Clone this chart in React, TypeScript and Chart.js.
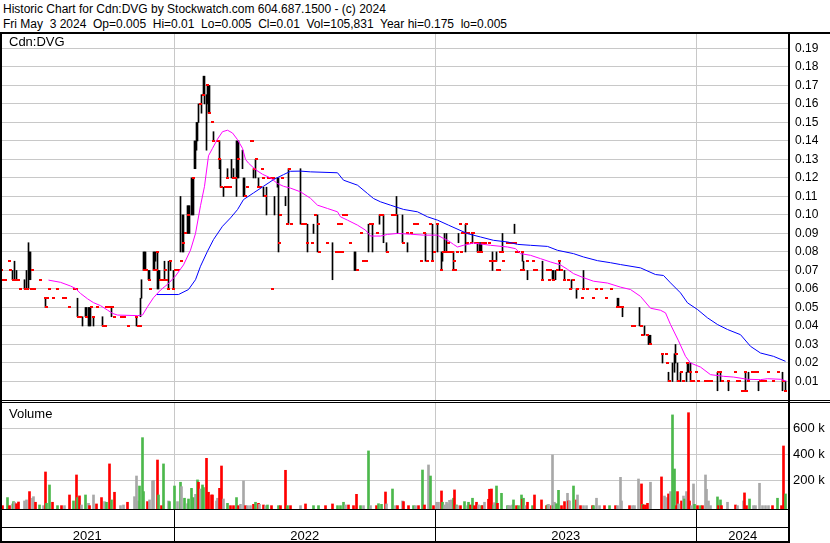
import React, { useEffect, useRef } from 'react';
import { Chart, registerables } from 'chart.js';

Chart.register(...registerables);

const FONT = '"Liberation Sans", Arial, Helvetica, sans-serif';

// ---- axis data ----
const yearLabels = ['2021', '2022', '2023', '2024'];
// session index at which each new calendar year begins
const yearStarts = [174, 434.5, 696];
const sessionMin = -0.5;
const sessionMax = 788.5;
const priceTicks = [0.01, 0.02, 0.03, 0.04, 0.05, 0.06, 0.07, 0.08, 0.09, 0.1, 0.11, 0.12, 0.13, 0.14, 0.15, 0.16, 0.17, 0.18, 0.19];
const priceMax = 0.1978;
const volTicks = [200000, 400000, 600000];
const volMin = -20800;
const volMax = 794600;

// ---- daily high-low bars (session index, low, high) ----
const barDays = [12, 14, 16, 24, 26, 28, 29, 30, 45, 77, 82, 85, 86, 88, 89, 90, 93, 102, 111, 136, 140,
  141, 143, 144, 145, 148, 149, 153, 154, 155, 157, 158, 159, 164, 168, 170, 173, 180, 182, 183, 187, 188, 189,
  191, 192, 193, 194, 195, 196, 197, 198, 201, 203, 204, 206, 207, 208, 209, 213, 219, 220, 223, 227, 231, 233,
  236, 237, 238, 242, 243, 244, 253, 255, 258, 263, 266, 274, 277, 278, 285, 288,
  300, 307, 313, 317, 332, 354, 355, 368, 372, 379, 383, 386, 396, 397, 402, 407, 425, 432, 437,
  441, 442, 444, 446, 453, 458, 465, 472, 477, 479, 480, 481, 492, 496, 502, 514, 522, 523, 527, 542, 552, 553,
  555, 559, 564, 571, 576, 583,
  617, 618, 622, 639, 644, 648, 649, 650, 662, 668, 672, 674, 675, 677, 680, 686, 687, 688, 690, 717, 720, 728,
  745, 748, 758, 782, 785];
const barLows = [0.065, 0.065, 0.065, 0.06, 0.06, 0.06, 0.065, 0.065, 0.05, 0.045, 0.04, 0.045, 0.045, 0.04, 0.04, 0.04, 0.04, 0.04, 0.045, 0.04, 0.045,
  0.055, 0.07, 0.07, 0.07, 0.065, 0.065, 0.07, 0.07, 0.075, 0.06, 0.06, 0.065, 0.065, 0.06, 0.07, 0.06, 0.08, 0.08, 0.08, 0.09, 0.09, 0.09,
  0.1, 0.1, 0.1, 0.125, 0.125, 0.135, 0.14, 0.15, 0.155, 0.165, 0.16, 0.135, 0.16, 0.155, 0.155, 0.14, 0.125, 0.115, 0.11, 0.12, 0.12, 0.12,
  0.11, 0.12, 0.12, 0.125, 0.11, 0.11, 0.12, 0.12, 0.115, 0.11, 0.1, 0.1, 0.115, 0.08, 0.105, 0.095,
  0.095, 0.08, 0.09, 0.08, 0.065, 0.07, 0.07, 0.08, 0.08, 0.095, 0.085, 0.08, 0.1, 0.09, 0.085, 0.08, 0.075, 0.075, 0.08,
  0.07, 0.075, 0.08, 0.08, 0.07, 0.085, 0.08, 0.085, 0.08, 0.08, 0.08, 0.08, 0.07, 0.075, 0.08, 0.09, 0.075, 0.07, 0.065, 0.065, 0.065, 0.065,
  0.065, 0.07, 0.065, 0.06, 0.055, 0.06,
  0.05, 0.05, 0.045, 0.04, 0.035, 0.03, 0.03, 0.03, 0.02, 0.01, 0.01, 0.015, 0.02, 0.01, 0.01, 0.01, 0.015, 0.015, 0.01, 0.005, 0.01, 0.005,
  0.005, 0.01, 0.005, 0.005, 0.005];
const barHighs = [0.07, 0.075, 0.07, 0.065, 0.07, 0.085, 0.08, 0.08, 0.055, 0.055, 0.045, 0.05, 0.05, 0.05, 0.05, 0.05, 0.045, 0.045, 0.05, 0.045, 0.055,
  0.065, 0.08, 0.08, 0.08, 0.07, 0.07, 0.08, 0.08, 0.08, 0.08, 0.07, 0.07, 0.075, 0.075, 0.075, 0.07, 0.11, 0.1, 0.1, 0.105, 0.105, 0.105,
  0.12, 0.12, 0.12, 0.14, 0.14, 0.15, 0.15, 0.16, 0.165, 0.175, 0.175, 0.165, 0.17, 0.17, 0.17, 0.145, 0.14, 0.13, 0.115, 0.125, 0.13, 0.125,
  0.14, 0.14, 0.14, 0.135, 0.12, 0.12, 0.125, 0.13, 0.12, 0.115, 0.115, 0.11, 0.12, 0.12, 0.11, 0.125,
  0.125, 0.095, 0.095, 0.1, 0.085, 0.08, 0.08, 0.095, 0.095, 0.1, 0.1, 0.085, 0.11, 0.1, 0.1, 0.085, 0.09, 0.095, 0.095,
  0.08, 0.08, 0.09, 0.09, 0.08, 0.09, 0.095, 0.09, 0.085, 0.085, 0.085, 0.085, 0.08, 0.08, 0.09, 0.095, 0.08, 0.075, 0.07, 0.075, 0.07, 0.07,
  0.07, 0.075, 0.07, 0.065, 0.06, 0.07,
  0.055, 0.055, 0.05, 0.05, 0.04, 0.035, 0.035, 0.035, 0.025, 0.015, 0.02, 0.025, 0.03, 0.02, 0.015, 0.015, 0.02, 0.02, 0.02, 0.015, 0.015, 0.01,
  0.015, 0.015, 0.01, 0.015, 0.01];

// ---- closing ticks (session index, price) ----
const closeDays = [1, 2, 5, 9, 10, 13, 16, 18, 20, 25, 27, 31, 32, 34, 40, 45, 46, 47, 49, 53, 57, 63, 65, 69, 74, 76, 78, 80, 86, 91, 93, 97,
  103, 105, 106, 109, 112, 114, 121, 124, 128, 136, 138, 140, 144, 146, 149, 150, 154, 156, 157, 160, 163, 165, 166, 168, 170, 173,
  175, 178, 181, 183, 185, 188, 193, 200, 203, 207, 209, 212, 213, 217, 218, 219, 221, 225, 227, 228, 230, 233, 235, 238, 245, 247,
  251, 252, 254, 256, 258, 260, 262, 263, 265, 268, 270, 272, 273, 279, 280, 282, 287, 289, 291, 302, 305, 307, 312, 315, 318, 319,
  327, 336, 338, 339, 341, 342, 343, 346, 350, 357, 361, 363, 366, 370, 372, 377, 380, 382, 387, 392, 395, 403, 407, 411, 414, 417,
  421, 424, 427, 430, 432, 434, 437, 441, 443, 446, 448, 449, 452, 453, 454, 455, 457, 460, 461, 462, 465, 466, 467, 468, 471, 472,
  473, 475, 477, 478, 481, 482, 485, 489, 490, 492, 495, 497, 499, 500, 502, 503, 507, 510, 513, 515, 516, 518, 521, 522, 523, 527,
  533, 534, 536, 542, 547, 549, 550, 553, 557, 559, 561, 564, 568, 570, 573, 577, 582, 583, 587, 593, 596, 601, 606, 611, 617, 619,
  622, 632, 634, 641, 642, 647, 650, 662, 666, 667, 669, 676, 678, 681, 683, 687, 690, 691, 693, 696, 698, 705, 707, 709, 711, 718,
  720, 722, 728, 735, 737, 739, 742, 744, 745, 746, 748, 752, 754, 757, 760, 762, 765, 768, 773, 778, 783, 785];
const closes = [0.07, 0.065, 0.065, 0.075, 0.07, 0.065, 0.065, 0.065, 0.06, 0.06, 0.06, 0.06, 0.07, 0.06, 0.065, 0.055, 0.05, 0.055, 0.06, 0.055, 0.06, 0.055, 0.055, 0.05, 0.06, 0.06, 0.045, 0.045, 0.045, 0.05, 0.045, 0.05,
  0.04, 0.04, 0.05, 0.05, 0.05, 0.045, 0.045, 0.045, 0.04, 0.045, 0.04, 0.04, 0.07, 0.07, 0.065, 0.06, 0.07, 0.07, 0.08, 0.065, 0.065, 0.07, 0.065, 0.06, 0.075, 0.06,
  0.07, 0.07, 0.075, 0.085, 0.09, 0.1, 0.12, 0.16, 0.165, 0.17, 0.155, 0.15, 0.14, 0.14, 0.14, 0.13, 0.115, 0.115, 0.12, 0.115, 0.115, 0.12, 0.12, 0.13, 0.11, 0.115,
  0.14, 0.14, 0.125, 0.13, 0.115, 0.115, 0.125, 0.12, 0.11, 0.12, 0.12, 0.06, 0.12, 0.085, 0.1, 0.12, 0.095, 0.125, 0.095, 0.095, 0.095, 0.085, 0.085, 0.1, 0.095, 0.08,
  0.085, 0.08, 0.095, 0.08, 0.095, 0.08, 0.1, 0.1, 0.085, 0.07, 0.09, 0.075, 0.075, 0.095, 0.095, 0.09, 0.1, 0.1, 0.08, 0.1, 0.1, 0.085, 0.09, 0.09, 0.095, 0.095,
  0.075, 0.09, 0.075, 0.095, 0.075, 0.08, 0.095, 0.07, 0.08, 0.08, 0.085, 0.08, 0.08, 0.07, 0.075, 0.07, 0.08, 0.095, 0.08, 0.09, 0.09, 0.095, 0.085, 0.09, 0.085, 0.09,
  0.09, 0.085, 0.085, 0.08, 0.08, 0.085, 0.085, 0.085, 0.075, 0.075, 0.075, 0.07, 0.07, 0.08, 0.08, 0.075, 0.085, 0.085, 0.085, 0.085, 0.08, 0.08, 0.07, 0.08, 0.07, 0.075,
  0.075, 0.07, 0.07, 0.065, 0.07, 0.065, 0.07, 0.065, 0.07, 0.075, 0.07, 0.065, 0.065, 0.06, 0.065, 0.06, 0.055, 0.06, 0.06, 0.055, 0.06, 0.06, 0.055, 0.06, 0.05, 0.05,
  0.05, 0.04, 0.04, 0.04, 0.035, 0.035, 0.03, 0.025, 0.025, 0.02, 0.01, 0.025, 0.01, 0.015, 0.01, 0.02, 0.015, 0.01, 0.01, 0.015, 0.01, 0.01, 0.01, 0.01, 0.01, 0.015,
  0.015, 0.01, 0.01, 0.015, 0.01, 0.01, 0.005, 0.005, 0.015, 0.005, 0.01, 0.015, 0.015, 0.015, 0.01, 0.01, 0.01, 0.015, 0.01, 0.015, 0.01, 0.005];

// ---- moving averages ----
const maShortDays = [48, 60, 70, 75, 80, 87, 93, 100, 107, 112, 117, 137, 142, 147, 153, 160, 167, 175, 183, 190, 195, 200, 204, 208, 212,
  217, 222, 227, 232, 237, 242, 245, 248, 255, 262, 270, 277, 283, 290, 300, 310, 317, 327, 337, 340, 347, 357, 365, 370, 380, 387,
  397, 410, 423, 437, 443, 448, 453, 457, 463, 473, 490, 507, 515, 520, 530, 540, 550, 560, 567, 573, 583, 593, 607, 620, 630, 640,
  650, 660, 665, 670, 678, 685, 690, 700, 710, 723, 733, 747, 760, 767, 780, 786];
const maShort = [0.0648, 0.0636, 0.0616, 0.0603, 0.0576, 0.0547, 0.0526, 0.051, 0.0486, 0.0468, 0.0459, 0.0456, 0.0459, 0.0504, 0.0553, 0.0594, 0.0625, 0.067, 0.073, 0.081, 0.09, 0.105, 0.1155, 0.132, 0.136,
  0.141, 0.145, 0.1458, 0.1443, 0.1407, 0.136, 0.13, 0.128, 0.1245, 0.122, 0.12, 0.117, 0.1155, 0.1145, 0.1125, 0.109, 0.1053, 0.1035, 0.1017, 0.099, 0.0972, 0.0945, 0.0918, 0.0886, 0.0886, 0.0895,
  0.09, 0.0896, 0.0891, 0.0891, 0.0873, 0.086, 0.0841, 0.0827, 0.0836, 0.0848, 0.0836, 0.0827, 0.0818, 0.0791, 0.0782, 0.0764, 0.0746, 0.073, 0.0706, 0.0683, 0.0661, 0.0642, 0.0632, 0.061, 0.0597, 0.056,
  0.0496, 0.0485, 0.0471, 0.0408, 0.032, 0.0236, 0.02, 0.0178, 0.0137, 0.0128, 0.0124, 0.0112, 0.011, 0.0115, 0.0112, 0.0102];
const maLongDays = [156, 178, 188, 195, 200, 207, 213, 222, 230, 237, 243, 253, 263, 273, 283, 290, 300, 310, 337, 343, 357, 367, 373,
  380, 390, 403, 417, 427, 437, 448, 467, 480, 493, 507, 517, 530, 547, 557, 573, 583, 597, 610, 620, 640, 655, 663, 670, 680, 687,
  697, 707, 717, 727, 740, 750, 760, 773, 785];
const maLong = [0.057, 0.057, 0.0597, 0.065, 0.0723, 0.0804, 0.0867, 0.0939, 0.0984, 0.1029, 0.1083, 0.1119, 0.1155, 0.1191, 0.1218, 0.1236, 0.1237, 0.1233, 0.1228, 0.1188, 0.1161, 0.1116, 0.1089,
  0.1071, 0.1053, 0.103, 0.1017, 0.099, 0.0972, 0.0945, 0.0899, 0.0881, 0.0863, 0.0854, 0.0841, 0.0836, 0.083, 0.0809, 0.0791, 0.0773, 0.0753, 0.0742, 0.0732, 0.0714, 0.0678, 0.0673, 0.0633, 0.0579, 0.0525,
  0.0489, 0.0444, 0.0408, 0.0381, 0.0353, 0.029, 0.0254, 0.0236, 0.0209];

// ---- volume (session index, thousands of shares, direction g=up r=down n=unchanged) ----
const volDays = [2, 7, 9, 12, 13, 14, 16, 18, 24, 26, 29, 32, 33, 35, 39, 43, 45, 46, 49, 52, 57, 61, 64, 69, 73, 76, 77, 79, 81, 85, 88, 89, 93, 96,
  101, 104, 106, 109, 111, 114, 120, 123, 127, 134, 136, 138, 139, 142, 143, 147, 149, 152, 153, 157, 158, 161, 163, 168, 169, 174, 177,
  180, 181, 184, 187, 188, 191, 193, 195, 197, 198, 200, 202, 203, 206, 208, 211, 212, 216, 217, 219, 221, 223, 227, 230, 233, 236, 238,
  240, 243, 245, 247, 250, 253, 255, 258, 259, 263, 265, 267, 271, 278, 280, 285, 287, 290, 300, 305, 313, 318, 325, 332, 337, 340, 343,
  345, 348, 353, 356, 360, 363, 368, 370, 376, 378, 381, 385, 386, 392, 395, 397, 402, 403, 408, 413,
  415, 418, 422, 424, 428, 430, 433, 436, 438, 441, 442, 444, 446, 447, 449, 451, 453, 454, 456, 457, 460, 464, 467, 468, 470, 472, 474,
  476, 478, 481, 482, 484, 488, 489, 491, 493, 494, 496, 497, 501, 507, 508, 510, 512, 513, 516, 518, 521, 522, 523, 525, 527, 532, 534,
  541, 546, 547, 548, 551, 552, 553, 554, 556, 558, 561, 564, 567, 568, 569, 573, 576, 577, 580, 583, 586, 592, 593, 596, 599, 604, 609,
  615, 617, 620, 621, 629, 632, 634, 638, 641, 642, 643, 645, 647, 650, 661, 664, 666, 668, 670, 672, 674, 676, 677, 678, 681, 683, 684,
  686, 688, 689, 691, 693, 694, 697, 700, 702, 705, 706, 708, 710, 717, 718, 720, 721, 727, 735, 737, 743, 744, 746, 749, 753, 755, 759,
  762, 765, 768, 772, 777, 781, 783, 785];
const volK = [5, 67, 5, 18, 36, 31, 20, 33, 41, 49, 113, 62, 74, 31, 10, 5, 264, 23, 164, 31, 5, 5, 5, 87, 41, 241, 67, 80, 10, 87, 23, 5, 87, 18,
  67, 36, 31, 326, 49, 108, 5, 10, 31, 74, 233, 41, 156, 528, 113, 36, 49, 195, 200, 356, 87, 5, 326, 41, 36, 156, 36,
  185, 151, 62, 20, 56, 138, 67, 92, 203, 185, 133, 164, 144, 369, 108, 87, 87, 41, 62, 138, 310, 56, 23, 5, 5, 67, 5,
  15, 195, 5, 5, 5, 15, 31, 23, 15, 10, 5, 10, 5, 5, 5, 277, 5, 5, 5, 18, 5, 5, 5, 18, 5, 5, 31,
  10, 10, 5, 92, 5, 5, 426, 5, 5, 20, 15, 110, 18, 133, 5, 5, 41, 36, 5, 5,
  5, 5, 279, 10, 318, 233, 5, 31, 31, 118, 31, 10, 31, 20, 46, 49, 62, 126, 10, 5, 5, 36, 5, 31, 10, 62, 5,
  31, 10, 5, 5, 31, 54, 131, 133, 10, 28, 156, 23, 100, 5, 5, 5, 10, 49, 5, 5, 87, 54, 62, 5, 31, 5, 87,
  49, 5, 10, 15, 5, 395, 5, 31, 20, 123, 5, 36, 100, 41, 41, 156, 49, 87, 5, 5, 5, 5, 5, 62, 5, 5, 5,
  5, 5, 223, 41, 5, 5, 5, 210, 172, 15, 10, 10, 23, 185, 226, 79, 67, 95, 113, 703, 287, 5, 113, 18, 41, 79, 56,
  113, 720, 41, 5, 172, 15, 5, 5, 5, 241, 131, 41, 5, 72, 5, 49, 5, 31, 10, 5, 41, 103, 5, 56, 5, 5, 177,
  5, 5, 5, 5, 62, 5, 464, 95];
const volDir = ['r', 'g', 'r', 'n', 'g', 'n', 'r', 'r', 'n', 'n', 'r', 'n', 'n', 'r', 'g', 'n', 'r', 'g', 'g', 'r', 'g', 'r', 'n', 'r', 'g', 'r', 'g', 'r', 'n', 'g', 'n', 'r', 'n', 'r',
  'r', 'n', 'g', 'r', 'g', 'r', 'n', 'n', 'r', 'n', 'n', 'n', 'g', 'g', 'g', 'r', 'n', 'n', 'n', 'r', 'g', 'r', 'g', 'n', 'g', 'g', 'n',
  'g', 'n', 'g', 'n', 'g', 'g', 'g', 'n', 'g', 'r', 'n', 'g', 'g', 'r', 'r', 'r', 'r', 'n', 'n', 'r', 'r', 'n', 'g', 'r', 'r', 'g', 'r',
  'n', 'n', 'r', 'n', 'n', 'r', 'g', 'r', 'n', 'r', 'n', 'g', 'r', 'g', 'r', 'r', 'g', 'r', 'n', 'r', 'g', 'g', 'r', 'r', 'g', 'g', 'g',
  'n', 'r', 'r', 'r', 'g', 'n', 'g', 'n', 'r', 'g', 'g', 'r', 'n', 'g', 'n', 'r', 'n', 'r', 'r', 'g',
  'n', 'r', 'g', 'r', 'n', 'g', 'r', 'n', 'n', 'r', 'g', 'n', 'n', 'n', 'n', 'n', 'g', 'r', 'g', 'n', 'r', 'g', 'n', 'g', 'r', 'g', 'r',
  'r', 'n', 'g', 'r', 'n', 'r', 'r', 'r', 'g', 'n', 'g', 'r', 'g', 'g', 'n', 'n', 'n', 'g', 'r', 'g', 'g', 'r', 'g', 'n', 'r', 'g', 'r',
  'r', 'r', 'g', 'n', 'r', 'n', 'g', 'n', 'g', 'g', 'r', 'r', 'n', 'r', 'n', 'g', 'r', 'n', 'r', 'n', 'n', 'r', 'g', 'n', 'n', 'r', 'g',
  'r', 'n', 'n', 'n', 'r', 'n', 'n', 'n', 'r', 'g', 'r', 'r', 'r', 'n', 'r', 'n', 'n', 'r', 'n', 'g', 'g', 'r', 'r', 'n', 'r', 'n', 'g',
  'n', 'r', 'r', 'n', 'n', 'g', 'r', 'g', 'r', 'n', 'n', 'n', 'n', 'g', 'r', 'g', 'r', 'n', 'r', 'n', 'n', 'r', 'r', 'g', 'n', 'n', 'n',
  'n', 'n', 'n', 'r', 'g', 'r', 'r', 'g'];

const VOL_COLORS: Record<string, string> = { g: '#4cb84c', r: '#ff0000', n: '#a8a8a8' };
const GRID = '#c8c8c8';

// draws the panel grid (price/volume levels and year boundaries) through the chart's scales
function makeGridPlugin(levels: number[]) {
  return {
    id: 'panelGrid',
    beforeDatasetsDraw(chart: any) {
      const ctx = chart.ctx;
      const xs = chart.scales.x;
      const ys = chart.scales.y;
      const left = 0;
      const right = Math.round(ys.left);
      const top = Math.round(ys.top);
      const bottom = Math.round(ys.bottom);
      ctx.save();
      ctx.fillStyle = GRID;
      for (let i = 0; i < levels.length; i++) {
        const py = Math.round(ys.getPixelForValue(levels[i]) - 0.5);
        ctx.fillRect(left, py, right - left, 1);
      }
      for (let i = 0; i < yearStarts.length; i++) {
        const px = Math.round(xs.getPixelForValue(yearStarts[i]) - 0.5);
        ctx.fillRect(px, top, 1, bottom - top);
      }
      ctx.restore();
    },
  };
}

const noPad = (s: any) => {
  s.paddingTop = 0;
  s.paddingBottom = 0;
  s.paddingLeft = 0;
  s.paddingRight = 0;
};

export default function App() {
  const priceRef = useRef<HTMLCanvasElement>(null);
  const volRef = useRef<HTMLCanvasElement>(null);

  useEffect(() => {
    document.body.style.margin = '0';
    Chart.defaults.font.family = FONT;
    Chart.defaults.color = '#000';

    const tick = document.createElement('canvas');
    tick.width = 3;
    tick.height = 2;
    const tctx = tick.getContext('2d')!;
    tctx.fillStyle = '#ff0000';
    tctx.fillRect(0, 0, 3, 2);

    const xAxis = (h: number) => ({
      type: 'linear',
      min: sessionMin,
      max: sessionMax,
      offset: false,
      afterFit: (s: any) => { s.height = h; noPad(s); },
      grid: { display: false, drawTicks: false },
      border: { display: false },
      ticks: { display: false },
    });

    const price = new Chart(priceRef.current!, {
      type: 'bar',
      data: {
        datasets: [
          {
            type: 'line',
            data: maShortDays.map((d, i) => ({ x: d, y: maShort[i] })),
            borderColor: '#ff00ff',
            borderWidth: 1,
            pointRadius: 0,
            tension: 0,
            order: 0,
          } as any,
          {
            type: 'line',
            data: maLongDays.map((d, i) => ({ x: d, y: maLong[i] })),
            borderColor: '#0000ff',
            borderWidth: 1,
            pointRadius: 0,
            tension: 0,
            order: 0,
          } as any,
          {
            type: 'scatter',
            data: closeDays.map((d, i) => ({ x: d, y: closes[i] })),
            pointStyle: tick,
            pointRadius: 2,
            pointBorderWidth: 0,
            order: 1,
          } as any,
          {
            type: 'bar',
            data: barDays.map((d, i) => ({ x: d, y: [barLows[i], barHighs[i]] })),
            backgroundColor: '#000',
            barThickness: 1,
            order: 2,
          } as any,
        ],
      },
      options: {
        animation: false,
        responsive: false,
        events: [],
        layout: { padding: 0, autoPadding: false },
        plugins: { legend: { display: false }, tooltip: { enabled: false } },
        scales: {
          x: xAxis(0),
          y: {
            position: 'right',
            min: 0,
            max: priceMax,
            afterFit: (s: any) => { s.width = 41; noPad(s); },
            afterBuildTicks: (s: any) => { s.ticks = priceTicks.map((v) => ({ value: v })); },
            grid: { display: false, drawTicks: false },
            border: { display: false },
            ticks: {
              padding: 6,
              autoSkip: false,
              color: '#000',
              font: { size: 12, family: FONT },
              callback: (v: any) => Number(v).toFixed(2),
            },
          },
        },
      } as any,
      plugins: [makeGridPlugin(priceTicks)],
    });

    const stripPlugin = {
      id: 'yearStrip',
      afterDraw(chart: any) {
        const ctx = chart.ctx;
        const xs = chart.scales.x;
        const ys = chart.scales.y;
        const bottomArea = Math.round(ys.bottom);
        const h = chart.height;
        const right = Math.round(ys.left);
        ctx.save();
        ctx.fillStyle = '#000';
        ctx.fillRect(0, bottomArea, right, 1);
        ctx.fillRect(0, bottomArea + 18, right, 1);
        ctx.fillRect(0, h - 2, right, 2);
        yearStarts.forEach((v) => {
          const px = Math.round(xs.getPixelForValue(v) - 0.5);
          ctx.fillRect(px, bottomArea, 1, h - bottomArea);
        });
        const bounds = [xs.min, ...yearStarts, xs.max];
        ctx.font = '13px ' + FONT;
        ctx.textAlign = 'center';
        ctx.textBaseline = 'alphabetic';
        yearLabels.forEach((lab, i) => {
          const cx = (xs.getPixelForValue(bounds[i]) + xs.getPixelForValue(bounds[i + 1])) / 2;
          ctx.fillText(lab, cx, h - 3);
        });
        ctx.restore();
      },
    };

    const vol = new Chart(volRef.current!, {
      type: 'bar',
      data: {
        datasets: [
          {
            data: volDays.map((d, i) => ({ x: d, y: [volMin, volK[i] * 1000] })),
            backgroundColor: volDir.map((c) => VOL_COLORS[c]),
            barThickness: 2,
          } as any,
        ],
      },
      options: {
        animation: false,
        responsive: false,
        events: [],
        layout: { padding: 0, autoPadding: false },
        plugins: { legend: { display: false }, tooltip: { enabled: false } },
        scales: {
          x: xAxis(34),
          y: {
            position: 'right',
            min: volMin,
            max: volMax,
            afterFit: (s: any) => { s.width = 41; noPad(s); },
            afterBuildTicks: (s: any) => { s.ticks = volTicks.map((v) => ({ value: v })); },
            grid: { display: false, drawTicks: false },
            border: { display: false },
            ticks: {
              padding: 4,
              autoSkip: false,
              color: '#000',
              font: { size: 13, family: FONT },
              callback: (v: any) => `${Math.round(Number(v) / 1000)} k`,
            },
          },
        },
      } as any,
      plugins: [makeGridPlugin(volTicks), stripPlugin],
    });

    return () => {
      price.destroy();
      vol.destroy();
    };
  }, []);

  const line = (l: number, t: number, w: number, h: number) => (
    <div style={{ position: 'absolute', left: l, top: t, width: w, height: h, background: '#000' }} />
  );

  return (
    <div style={{ position: 'relative', width: 830, height: 543, background: '#fff', fontFamily: FONT, color: '#000', overflow: 'hidden' }}>
      <div style={{ position: 'absolute', left: 3, top: 2, fontSize: 12, lineHeight: '14px', whiteSpace: 'pre' }}>
        Historic Chart for Cdn:DVG by Stockwatch.com 604.687.1500 - (c) 2024
      </div>
      <div style={{ position: 'absolute', left: 3, top: 16.5, fontSize: 12, lineHeight: '14px', whiteSpace: 'pre' }}>
        {'Fri May  3 2024  Op=0.005  Hi=0.01  Lo=0.005  Cl=0.01  Vol=105,831  Year hi=0.175  lo=0.005'}
      </div>
      <canvas ref={priceRef} width={830} height={366} style={{ position: 'absolute', left: 0, top: 34 }} />
      <canvas ref={volRef} width={830} height={140} style={{ position: 'absolute', left: 0, top: 403 }} />
      <div style={{ position: 'absolute', left: 9, top: 34, fontSize: 13, lineHeight: '15px' }}>Cdn:DVG</div>
      <div style={{ position: 'absolute', left: 9, top: 406, fontSize: 13, lineHeight: '15px' }}>Volume</div>
      {line(0, 32, 830, 2)}
      {line(0, 32, 2, 511)}
      {line(788, 32, 2, 511)}
      {line(0, 400, 830, 1)}
      {line(0, 402, 830, 1)}
    </div>
  );
}
